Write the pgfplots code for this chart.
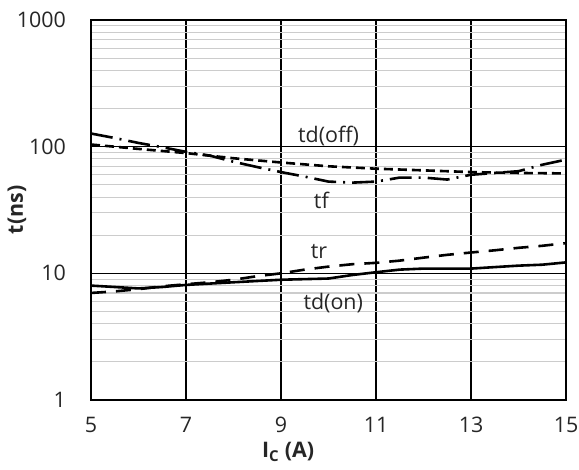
\documentclass[border=0pt]{standalone}
\usepackage{fontspec}
\setmainfont{Open Sans}
\usepackage{pgfplots}
\pgfplotsset{compat=1.18}
\begin{document}
\begin{tikzpicture}
\begin{axis}[
  scale only axis, width=475bp, height=380bp,
  xmin=5, xmax=15, ymin=1, ymax=1000, ymode=log,
  xtick={5,7,9,11,13,15}, ytick={1,10,100,1000}, yticklabels={1,10,100,1000},
  minor ytick={2,3,4,5,6,7,8,9,20,30,40,50,60,70,80,90,200,300,400,500,600,700,800,900},
  minor x tick num=0,
  grid=both,
  major grid style={black, line width=1.2bp},
  minor grid style={black!20, line width=1.1bp},
  axis line style={black, line width=1.4bp},
  tick style={draw=none},
  /pgf/number format/assume math mode=true,
  every tick label/.append style={font=\fontsize{21.5}{25}\selectfont, text=black!85},
  xticklabel style={anchor=center, inner sep=0pt, yshift=-25bp},
  yticklabel style={anchor=east, inner sep=0pt, xshift=-25bp},
  xlabel={\textbf{I\textsubscript{C} (A)}},
  ylabel={\textbf{t(ns)}},
  label style={font=\fontsize{21.5}{25}\selectfont, text=black!85},
  xlabel style={at={(axis description cs:0.415,0)}, anchor=center, yshift=-52bp},
  ylabel style={at={(axis description cs:-0.156,0.5)}, anchor=center},
]
% td(off)
\addplot[black, line width=2.6bp, dash pattern=on 9bp off 5bp] coordinates {
(5,104)(6,96)(7,89)(8,81)(9,75)(10,70)(11,67)(12,65)(13,63)(14,62)(15,61.5)};
% tf
\addplot[black, line width=2.6bp, dash pattern=on 22bp off 7bp on 2bp off 7bp] coordinates {
(5,127)(5.5,117)(6,107)(6.5,99)(7,91)(7.5,85)(8,76)(8.5,69)(9,63)(9.5,58)(10,53)(10.5,52)(11,53)(11.5,57)(12,57)(12.5,55)(13,60)(13.5,62)(14,64)(14.5,72)(15,79)};
% tr
\addplot[black, line width=2.6bp, dash pattern=on 15bp off 10bp] coordinates {
(5,7.0)(5.5,7.2)(6,7.5)(6.5,7.9)(7,8.2)(7.5,8.5)(8,8.9)(8.5,9.5)(9,10)(9.5,10.7)(10,11.3)(10.5,11.8)(11,12.1)(11.5,12.6)(12,13.3)(12.5,14)(13,14.6)(13.5,15.2)(14,15.9)(14.5,16.5)(15,17.3)};
% td(on)
\addplot[black, line width=2.6bp] coordinates {
(5,8.0)(5.5,7.8)(6,7.6)(6.5,7.8)(7,8.1)(7.5,8.3)(8,8.5)(8.5,8.7)(9,8.9)(9.5,9.0)(10,9.1)(10.5,9.7)(11,10.2)(11.5,10.7)(12,10.9)(12.5,10.9)(13,10.9)(13.5,11.2)(14,11.5)(14.5,11.7)(15,12.2)};
\node[font=\fontsize{21.5}{25}\selectfont, text=black!85] at (axis cs:10,122) {td(off)};
\node[font=\fontsize{21.5}{25}\selectfont, text=black!85] at (axis cs:9.85,37.5) {tf};
\node[font=\fontsize{21.5}{25}\selectfont, text=black!85] at (axis cs:9.8,14.8) {tr};
\node[font=\fontsize{21.5}{25}\selectfont, text=black!85] at (axis cs:10.1,5.8) {td(on)};
\end{axis}
\path ([xshift=-91bp,yshift=-70bp]current axis.south west) rectangle ([xshift=13bp,yshift=20bp]current axis.north east);
\end{tikzpicture}
\end{document}
